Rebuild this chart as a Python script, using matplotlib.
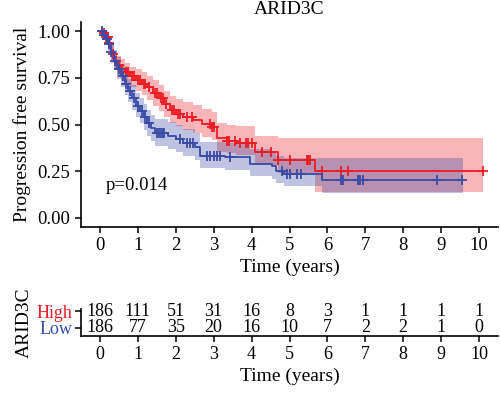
import numpy as np
import matplotlib
matplotlib.use("Agg")
import matplotlib.pyplot as plt

plt.rcParams["font.family"] = ["Liberation Serif", "DejaVu Serif"]

# High group (red)
t_high = [0, 0.08, 0.15, 0.22, 0.3, 0.38, 0.45, 0.55, 0.65, 0.8, 0.95, 1.1, 1.25, 1.4, 1.55, 1.7, 1.85, 2.0, 2.2, 2.45, 2.7, 2.95, 3.1, 3.35, 3.6, 4.1, 4.7, 5.67, 10.1]
s_high = [1.0, 0.99, 0.97, 0.94, 0.88, 0.84, 0.82, 0.80, 0.78, 0.76, 0.74, 0.72, 0.70, 0.67, 0.64, 0.61, 0.58, 0.555, 0.54, 0.525, 0.505, 0.485, 0.425, 0.41, 0.40, 0.35, 0.31, 0.25, 0.25]
hi_high = [1.0, 1.0, 1.0, 0.97, 0.93, 0.89, 0.87, 0.85, 0.83, 0.81, 0.80, 0.78, 0.76, 0.74, 0.71, 0.68, 0.655, 0.635, 0.62, 0.605, 0.585, 0.565, 0.51, 0.50, 0.49, 0.44, 0.43, 0.43, 0.43]
lo_high = [1.0, 0.97, 0.94, 0.90, 0.83, 0.79, 0.76, 0.74, 0.72, 0.70, 0.68, 0.66, 0.63, 0.60, 0.57, 0.54, 0.51, 0.49, 0.47, 0.455, 0.435, 0.415, 0.355, 0.345, 0.335, 0.28, 0.24, 0.135, 0.135]
cens_high = [0.05, 0.1, 0.15, 0.2, 0.25, 0.35, 0.42, 0.5, 0.58, 0.7, 0.75, 0.85, 0.9, 1.0, 1.05, 1.15, 1.2, 1.3, 1.45, 1.5, 1.6, 1.65, 1.75, 1.9, 1.95, 2.05, 2.1, 2.3, 2.42, 2.9, 2.95, 3.0, 3.35, 3.4, 3.55, 3.7, 3.84, 3.9, 4.0, 4.27, 4.5, 4.7, 5.0, 5.45, 5.5, 5.55, 5.85, 6.35, 6.55, 10.1]

# Low group (blue)
t_low = [0, 0.08, 0.15, 0.22, 0.3, 0.38, 0.45, 0.55, 0.65, 0.75, 0.85, 0.95, 1.05, 1.15, 1.25, 1.35, 1.45, 1.8, 2.0, 2.2, 2.5, 2.65, 3.3, 3.95, 4.55, 4.65, 4.85, 5.86, 9.58]
s_low = [1.0, 0.98, 0.96, 0.93, 0.89, 0.84, 0.80, 0.76, 0.72, 0.68, 0.64, 0.60, 0.57, 0.54, 0.51, 0.48, 0.455, 0.44, 0.42, 0.40, 0.38, 0.33, 0.325, 0.29, 0.275, 0.25, 0.235, 0.20, 0.20]
hi_low = [1.0, 1.0, 0.99, 0.97, 0.94, 0.90, 0.86, 0.82, 0.78, 0.745, 0.71, 0.67, 0.64, 0.61, 0.58, 0.55, 0.53, 0.515, 0.495, 0.475, 0.455, 0.405, 0.40, 0.37, 0.355, 0.33, 0.32, 0.32, 0.32]
lo_low = [1.0, 0.96, 0.93, 0.89, 0.84, 0.79, 0.745, 0.70, 0.66, 0.62, 0.58, 0.54, 0.51, 0.47, 0.44, 0.41, 0.385, 0.37, 0.35, 0.33, 0.31, 0.265, 0.255, 0.225, 0.21, 0.185, 0.17, 0.13, 0.13]
cens_low = [0.05, 0.1, 0.18, 0.25, 0.3, 0.4, 0.5, 0.6, 0.7, 0.8, 0.9, 1.0, 1.1, 1.2, 1.3, 1.5, 1.55, 1.6, 1.65, 1.7, 2.1, 2.3, 2.37, 2.45, 2.82, 2.9, 3.0, 3.08, 3.17, 3.43, 4.8, 4.93, 5.0, 5.2, 5.3, 6.35, 6.4, 6.8, 6.85, 6.95, 8.9, 9.55]

# number at risk
risk_times = [0, 1, 2, 3, 4, 5, 6, 7, 8, 9, 10]
risk_high = [186, 111, 51, 31, 16, 8, 3, 1, 1, 1, 1]
risk_low = [186, 77, 35, 20, 16, 10, 7, 2, 2, 1, 0]

red = "#EC1C24"
blue = "#3A4BA6"

fig = plt.figure(figsize=(5, 3.94), dpi=100)
ax = fig.add_axes([0.162, 0.424, 0.834, 0.52])

for t, s, lo, hi, cens, col in [(t_high, s_high, lo_high, hi_high, cens_high, red),
                                (t_low, s_low, lo_low, hi_low, cens_low, blue)]:
    ax.fill_between(t, lo, hi, step="post", color=col, alpha=0.33, linewidth=0)
    ax.step(t, s, where="post", color=col, linewidth=1.3)
    idx = np.searchsorted(t, cens, side="right") - 1
    ax.plot(cens, np.array(s)[idx], linestyle="none", marker="+", color=col,
            markersize=7.5, markeredgewidth=1.3)

ax.text(0.15, 0.175, "p=0.014", fontsize=13.5, va="center", ha="left")
ax.set_xlim(-0.5, 10.5)
ax.set_ylim(-0.05, 1.05)
ax.set_xticks(range(0, 11))
ax.set_yticks([0, 0.25, 0.5, 0.75, 1.0])
ax.set_yticklabels(["0.00", "0.25", "0.50", "0.75", "1.00"])
ax.set_title("ARID3C", fontsize=14, pad=6)
ax.set_xlabel("Time (years)", fontsize=14, labelpad=3)
ax.set_ylabel("Progression free survival", fontsize=14, labelpad=5)
for side in ["top", "right"]:
    ax.spines[side].set_visible(False)
for side in ["left", "bottom"]:
    ax.spines[side].set_linewidth(1.2)
ax.tick_params(labelsize=13.5, width=1.1, length=4, colors="black")

# risk table
rt = fig.add_axes([0.162, 0.147, 0.834, 0.07])
for i, tt in enumerate(risk_times):
    rt.text(tt, 1, str(risk_high[i]), ha="center", va="center", fontsize=13)
    rt.text(tt, 0, str(risk_low[i]), ha="center", va="center", fontsize=13)
rt.set_xlim(-0.5, 10.5)
rt.set_ylim(-0.5, 1.15)
rt.set_xticks(range(0, 11))
rt.set_yticks([1, 0])
rt.set_yticklabels(["High", "Low"])
rt.get_yticklabels()[0].set_color(red)
rt.get_yticklabels()[1].set_color(blue)
rt.set_xlabel("Time (years)", fontsize=14, labelpad=3)
rt.set_ylabel("ARID3C", fontsize=14, labelpad=3)
for side in ["top", "right"]:
    rt.spines[side].set_visible(False)
for side in ["left", "bottom"]:
    rt.spines[side].set_linewidth(1.2)
rt.tick_params(labelsize=13, width=1.1, length=4)
rt.tick_params(axis="y", pad=2)

fig.savefig("out.png", dpi=100)
